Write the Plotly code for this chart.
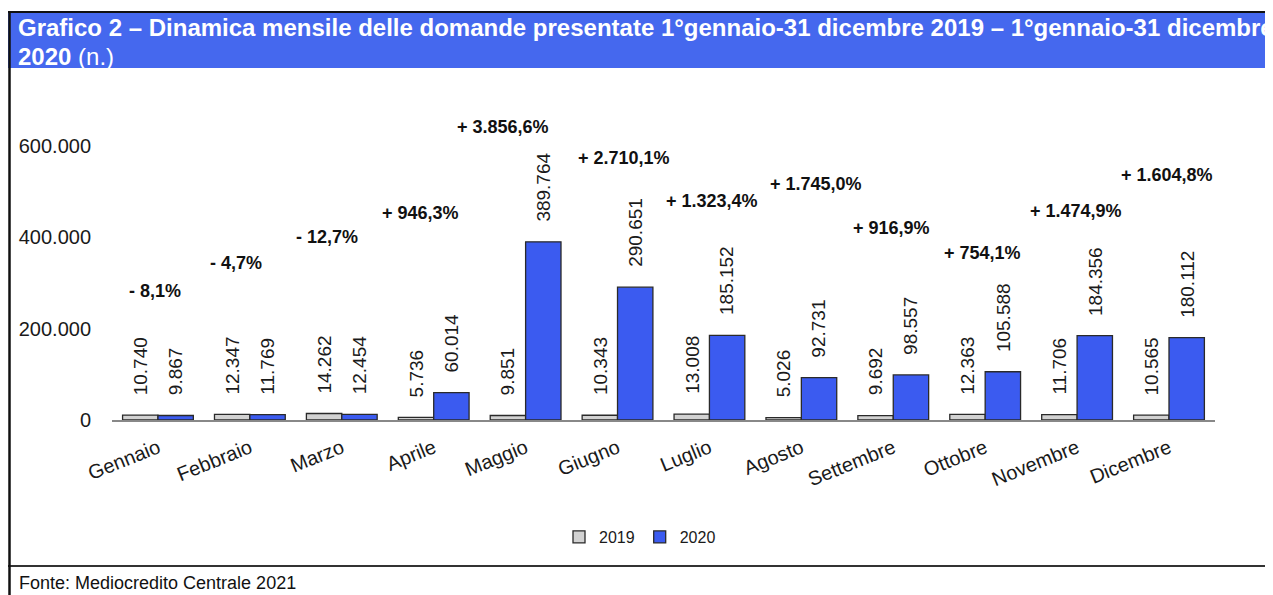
import plotly.graph_objects as go

months = ["Gennaio", "Febbraio", "Marzo", "Aprile", "Maggio", "Giugno",
          "Luglio", "Agosto", "Settembre", "Ottobre", "Novembre", "Dicembre"]
v2019 = [10740, 12347, 14262, 5736, 9851, 10343, 13008, 5026, 9692, 12363, 11706, 10565]
v2020 = [9867, 11769, 12454, 60014, 389764, 290651, 185152, 92731, 98557, 105588, 184356, 180112]
pct_labels = ["- 8,1%", "- 4,7%", "- 12,7%", "+ 946,3%", "+ 3.856,6%", "+ 2.710,1%",
              "+ 1.323,4%", "+ 1.745,0%", "+ 916,9%", "+ 754,1%", "+ 1.474,9%", "+ 1.604,8%"]
y_ticks = [0, 200000, 400000, 600000]
y_ticktext = ["0", "200.000", "400.000", "600.000"]

# layout-only placement of the percentage labels (data-y height, pixel x shift)
pct_y = [282500, 343800, 400700, 453300, 641600, 573700, 479600, 516800, 420500, 365700, 457700, 536500]
pct_dx = [-3, -14, -15, -13, -23, 6, 3, 15, -2, -3, -1, -2]

OFF = 8  # page body margin
W, H = 1273 - OFF, 595 - OFF
L = 112 - OFF
R = W - (1215 - OFF)
T = 100 - OFF
B = H - (420 - OFF)
PW, PH = W - L - R, H - T - B


def px(x):
    return (x - OFF - L) / PW


def py(y):
    return (H - B - (y - OFF)) / PH


def fmt(v):
    return f"{v:,}".replace(",", ".")


FONT = "Liberation Sans, Arial, sans-serif"
BLUE = "#3B5BF0"
GRAY = "#D2D2D2"
EDGE = "#2a2a2a"
TXT = "#1a1a1a"

fig = go.Figure()
fig.add_bar(name="2019", x=months, y=v2019, marker=dict(color=GRAY, line=dict(color=EDGE, width=1.3)))
fig.add_bar(name="2020", x=months, y=v2020, marker=dict(color=BLUE, line=dict(color=EDGE, width=1.3)))

bargap = 0.23
half = (1 - bargap) / 4
ann = []
for i in range(len(months)):
    for off, val in ((-half, v2019[i]), (half, v2020[i])):
        ann.append(dict(x=i + off, y=val, xref="x", yref="y", text=fmt(val), showarrow=False,
                        textangle=-90, xanchor="center", yanchor="bottom", yshift=18,
                        font=dict(family=FONT, size=19, color=TXT)))
    ann.append(dict(x=i, y=pct_y[i], xref="x", yref="y", text="<b>" + pct_labels[i] + "</b>",
                    showarrow=False, xanchor="center", yanchor="middle", xshift=pct_dx[i],
                    font=dict(family=FONT, size=18, color="#111")))

title1 = ("<b>Grafico 2 – Dinamica mensile delle domande presentate 1°gennaio-31 dicembre 2019 – "
          "1°gennaio-31 dicembre</b>")
title2 = "<b>2020</b> (n.)"
ann.append(dict(x=px(16), y=py(28), xref="paper", yref="paper", text=title1, showarrow=False,
                xanchor="left", yanchor="middle", align="left",
                font=dict(family=FONT, size=24, color="white")))
ann.append(dict(x=px(16), y=py(56), xref="paper", yref="paper", text=title2, showarrow=False,
                xanchor="left", yanchor="middle", align="left",
                font=dict(family=FONT, size=24, color="white")))
ann.append(dict(x=px(17), y=py(583), xref="paper", yref="paper", text="Fonte: Mediocredito Centrale 2021",
                showarrow=False, xanchor="left", yanchor="middle",
                font=dict(family=FONT, size=18, color="#111")))

shapes = [
    dict(type="rect", xref="paper", yref="paper", x0=px(8), x1=px(1300), y0=py(68), y1=py(12),
         fillcolor="#4568EE", line=dict(width=0), layer="below"),
    dict(type="line", xref="paper", yref="paper", x0=px(8), x1=px(1300), y0=py(12), y1=py(12),
         line=dict(color="#111", width=2)),
    dict(type="line", xref="paper", yref="paper", x0=px(8), x1=px(1300), y0=py(566), y1=py(566),
         line=dict(color="#333", width=2)),
    dict(type="line", xref="paper", yref="paper", x0=px(9.5), x1=px(9.5), y0=py(11), y1=py(600),
         line=dict(color="#111", width=2.5)),
]

fig.update_layout(
    width=W, height=H,
    margin=dict(l=L, r=R, t=T, b=B, autoexpand=False),
    paper_bgcolor="white", plot_bgcolor="white",
    barmode="group", bargap=bargap, bargroupgap=0,
    font=dict(family=FONT, color=TXT),
    xaxis=dict(showline=True, linecolor="#888", linewidth=1.5, showgrid=False, ticks="",
               tickangle=-22, ticklabelstandoff=7,
               tickfont=dict(size=20, family=FONT, color=TXT)),
    yaxis=dict(range=[0, 700000], tickvals=y_ticks, ticktext=y_ticktext, showgrid=False,
               zeroline=False, showline=False, ticks="", ticklabelstandoff=20,
               tickfont=dict(size=20, family=FONT, color=TXT)),
    legend=dict(orientation="h", x=px(640), xanchor="center", y=py(537), yanchor="middle",
                font=dict(size=16, family=FONT, color=TXT), itemwidth=30,
                bgcolor="rgba(0,0,0,0)"),
    annotations=ann, shapes=shapes,
)

fig.write_html("out.html")
